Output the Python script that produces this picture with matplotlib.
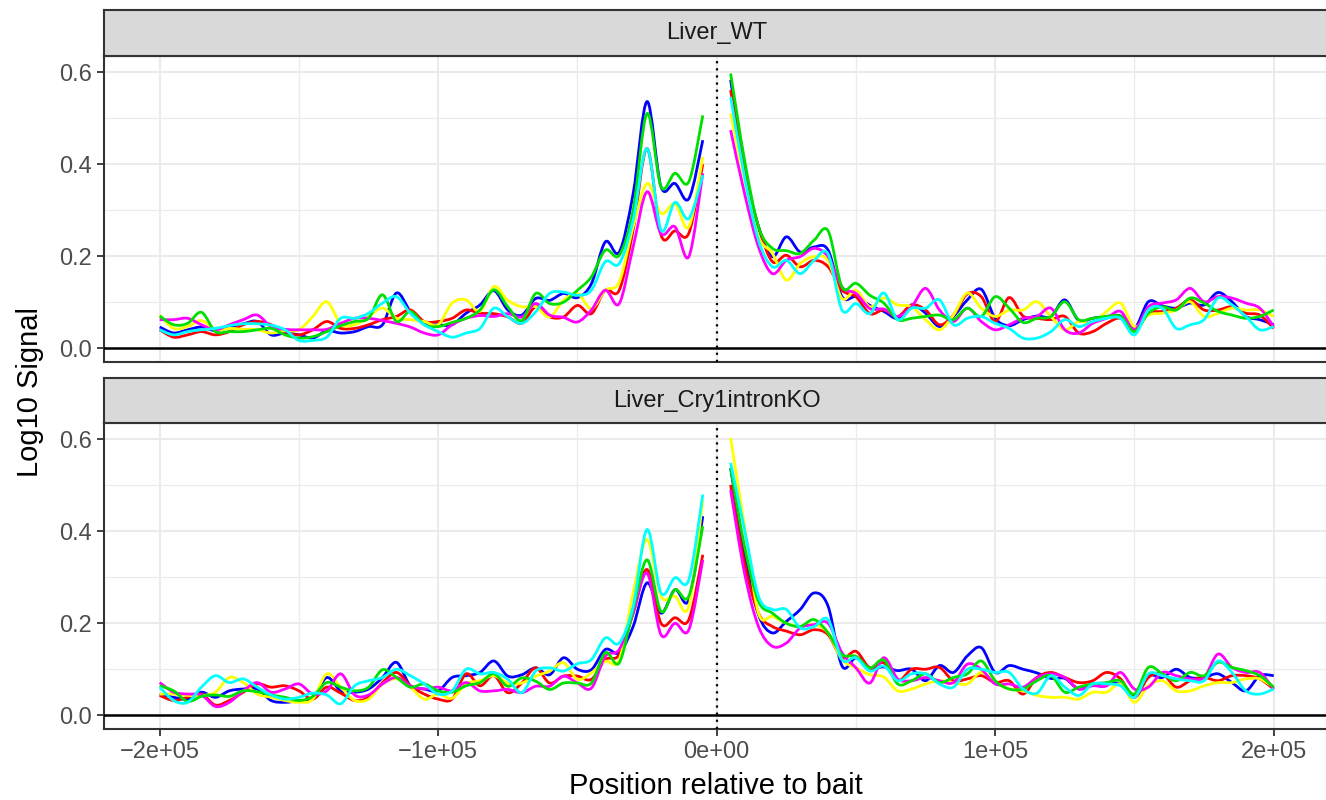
import matplotlib
matplotlib.use("Agg")
import matplotlib.pyplot as plt
from matplotlib.path import Path
from matplotlib.patches import PathPatch
from matplotlib.ticker import FixedLocator, FixedFormatter

plt.rcParams['font.family'] = ['Liberation Sans', 'DejaVu Sans']

# ---------------- data ----------------
panel_titles = ["Liver_WT", "Liver_Cry1intronKO"]
series_colors = ["#0000FF", "#FF0000", "#FFFF00", "#FF00FF", "#00E000", "#00FFFF"]

pos_left = list(range(-200000, 0, 5000))      # -200 kb .. -5 kb
pos_right = list(range(5000, 200001, 5000))   #  5 kb .. 200 kb

x_tick_values = [-200000, -100000, 0, 100000, 200000]
x_tick_labels = ["\u22122e+05", "\u22121e+05", "0e+00", "1e+05", "2e+05"]
y_tick_values = [0.0, 0.2, 0.4, 0.6]
y_tick_labels = ["0.0", "0.2", "0.4", "0.6"]

# Liver_WT
wt_blue = [.046, .033, .040, .046, .038, .046, .053, .058, .029, .033, .029, .022, .038, .033, .036, .047, .051, .120, .080, .053,
           .051, .051, .076, .094, .125, .083, .072, .108, .104, .119, .110, .140, .231, .209, .336, .536, .351, .358, .325, .452,
           .583, .394, .264, .199, .242, .209, .220, .213, .112, .112, .093, .080, .065, .094, .076, .047, .069, .105, .128, .065,
           .049, .062, .070, .069, .105, .060, .065, .069, .070, .043, .101, .092, .087, .098, .094, .121, .101, .069, .062, .051]
wt_red = [.040, .024, .029, .036, .029, .036, .051, .058, .051, .036, .029, .040, .058, .043, .043, .051, .062, .069, .083, .058,
          .058, .065, .083, .076, .075, .068, .054, .090, .068, .068, .093, .075, .126, .126, .257, .434, .246, .255, .250, .400,
          .561, .387, .264, .188, .202, .177, .191, .177, .126, .112, .075, .083, .069, .094, .083, .051, .072, .118, .112, .058,
          .110, .070, .065, .062, .069, .033, .036, .054, .065, .040, .076, .080, .087, .105, .083, .083, .090, .076, .072, .043]
wt_yellow = [.072, .043, .047, .060, .040, .043, .041, .040, .033, .038, .040, .069, .101, .053, .051, .069, .087, .065, .062, .058,
             .051, .098, .105, .080, .134, .104, .090, .090, .068, .104, .119, .086, .126, .144, .264, .358, .293, .314, .264, .416,
             .510, .365, .242, .206, .148, .184, .199, .190, .108, .126, .090, .109, .094, .090, .062, .040, .072, .120, .087, .069,
             .083, .083, .101, .069, .040, .058, .054, .080, .098, .047, .072, .076, .083, .101, .069, .076, .087, .083, .083, .069]
wt_magenta = [.062, .062, .065, .051, .040, .051, .062, .072, .047, .041, .040, .040, .041, .054, .065, .065, .060, .054, .046, .033,
              .029, .051, .065, .071, .069, .075, .068, .097, .072, .067, .057, .083, .126, .097, .220, .340, .249, .264, .199, .380,
              .474, .336, .220, .162, .191, .199, .217, .199, .133, .119, .086, .085, .069, .090, .130, .083, .058, .087, .058, .040,
              .051, .065, .069, .087, .040, .033, .054, .065, .080, .040, .090, .098, .105, .130, .101, .112, .109, .098, .087, .047]
wt_green = [.070, .051, .054, .078, .036, .036, .036, .040, .043, .029, .022, .025, .036, .049, .058, .065, .116, .058, .080, .051,
            .047, .056, .065, .083, .127, .090, .060, .119, .097, .100, .126, .155, .213, .202, .300, .510, .351, .380, .362, .506,
            .597, .409, .264, .217, .212, .206, .235, .255, .133, .141, .115, .098, .062, .065, .069, .072, .062, .087, .069, .112,
            .087, .056, .065, .069, .101, .062, .065, .069, .069, .036, .076, .090, .083, .109, .098, .080, .072, .065, .069, .083]
wt_cyan = [.040, .029, .036, .040, .043, .049, .053, .053, .050, .040, .017, .017, .024, .065, .065, .076, .098, .112, .076, .051,
           .036, .024, .033, .043, .087, .068, .054, .079, .119, .122, .115, .126, .188, .184, .278, .434, .257, .317, .282, .376,
           .546, .372, .235, .177, .191, .162, .191, .205, .083, .097, .075, .120, .062, .087, .087, .105, .051, .065, .069, .054,
           .043, .022, .022, .036, .062, .047, .058, .065, .065, .029, .083, .087, .043, .051, .062, .109, .094, .069, .040, .047]

# Liver_Cry1intronKO
ko_blue = [.046, .039, .035, .050, .039, .053, .057, .057, .032, .028, .032, .037, .082, .053, .050, .057, .082, .115, .064, .057,
           .053, .082, .086, .093, .118, .085, .088, .103, .088, .125, .100, .099, .143, .136, .193, .288, .222, .273, .251, .433,
           .538, .353, .219, .179, .204, .230, .266, .237, .107, .125, .103, .105, .097, .100, .075, .108, .093, .129, .147, .093,
           .108, .100, .092, .080, .080, .057, .068, .068, .068, .043, .086, .082, .100, .082, .082, .090, .071, .053, .086, .086]
ko_red = [.043, .032, .039, .046, .022, .032, .050, .068, .061, .064, .053, .035, .061, .048, .032, .039, .071, .093, .064, .046,
          .035, .035, .090, .064, .086, .049, .070, .103, .070, .085, .085, .078, .121, .132, .222, .317, .200, .212, .208, .349,
          .501, .331, .222, .193, .183, .175, .186, .175, .125, .139, .103, .114, .075, .100, .100, .104, .075, .079, .086, .071,
          .075, .046, .082, .093, .082, .071, .075, .093, .079, .039, .082, .090, .061, .075, .082, .075, .086, .086, .079, .057]
ko_yellow = [.046, .046, .043, .043, .050, .082, .071, .046, .039, .032, .028, .035, .090, .061, .032, .035, .068, .079, .061, .035,
             .046, .037, .068, .075, .086, .070, .070, .085, .096, .114, .078, .092, .117, .121, .266, .382, .259, .259, .237, .469,
             .603, .411, .222, .215, .200, .193, .197, .179, .121, .103, .088, .083, .053, .057, .068, .075, .071, .068, .093, .071,
             .057, .053, .043, .039, .039, .035, .050, .050, .068, .028, .064, .075, .053, .053, .064, .071, .071, .079, .079, .061]
ko_magenta = [.071, .050, .046, .044, .019, .028, .053, .071, .050, .057, .068, .046, .053, .090, .044, .044, .068, .082, .064, .057,
              .061, .053, .071, .053, .053, .056, .049, .063, .063, .085, .070, .059, .128, .143, .222, .309, .175, .200, .186, .338,
              .490, .309, .193, .150, .157, .190, .197, .200, .136, .103, .070, .125, .079, .075, .082, .075, .071, .111, .100, .068,
              .068, .061, .082, .090, .082, .057, .064, .064, .093, .057, .061, .093, .086, .079, .082, .133, .104, .093, .093, .057]
ko_green = [.064, .053, .030, .041, .044, .041, .053, .051, .044, .039, .032, .041, .071, .061, .053, .061, .099, .082, .061, .068,
            .053, .050, .064, .071, .090, .063, .081, .074, .056, .070, .070, .070, .136, .114, .230, .338, .226, .273, .259, .411,
            .538, .367, .248, .222, .200, .193, .208, .179, .132, .128, .103, .120, .068, .075, .090, .071, .082, .090, .118, .075,
            .057, .057, .075, .086, .050, .061, .068, .071, .075, .046, .104, .090, .075, .093, .086, .115, .104, .097, .086, .061]
ko_cyan = [.061, .032, .028, .061, .086, .071, .079, .061, .044, .035, .039, .048, .044, .025, .064, .075, .082, .100, .086, .068,
           .046, .053, .100, .090, .093, .078, .049, .096, .103, .096, .112, .121, .168, .157, .237, .404, .266, .299, .295, .480,
           .549, .404, .259, .230, .230, .190, .193, .208, .121, .125, .096, .107, .075, .090, .090, .068, .061, .100, .100, .093,
           .093, .057, .048, .086, .061, .043, .068, .068, .064, .039, .090, .086, .079, .075, .075, .118, .093, .053, .046, .057]

panel_series = [
    [wt_blue, wt_red, wt_yellow, wt_magenta, wt_green, wt_cyan],
    [ko_blue, ko_red, ko_yellow, ko_magenta, ko_green, ko_cyan],
]


def smooth_path(xs, ys):
    """Cubic Bezier path passing through every (x, y) point (Catmull-Rom tangents)."""
    n = len(xs)
    verts = [(xs[0], ys[0])]
    codes = [Path.MOVETO]
    for k in range(n - 1):
        x0, y0 = xs[max(k - 1, 0)], ys[max(k - 1, 0)]
        x1, y1 = xs[k], ys[k]
        x2, y2 = xs[k + 1], ys[k + 1]
        x3, y3 = xs[min(k + 2, n - 1)], ys[min(k + 2, n - 1)]
        c1 = (x1 + (x2 - x0) / 6.0, y1 + (y2 - y0) / 6.0)
        c2 = (x2 - (x3 - x1) / 6.0, y2 - (y3 - y1) / 6.0)
        verts += [c1, c2, (x2, y2)]
        codes += [Path.CURVE4] * 3
    return Path(verts, codes)


# ---------------- layout ----------------
W, H = 1326, 800
fig = plt.figure(figsize=(W / 100, H / 100), dpi=100)


def frac(x0, y0, x1, y1):
    return [x0 / W, 1 - y1 / H, (x1 - x0) / W, (y1 - y0) / H]


X0, X1 = 104, 1329.4
panel_boxes = [(56, 362), (423.3, 729)]
strip_boxes = [(10, 56), (378.3, 423.3)]

BORDER = "#333333"
GRID = "#EBEBEB"
n_left = len(pos_left)

for i in range(2):
    top, bot = panel_boxes[i]
    ax = fig.add_axes(frac(X0, top, X1, bot))
    ax.set_xlim(-220000, 220000)
    ax.set_ylim(-0.03, 0.635)
    ax.set_axisbelow(True)

    ax.xaxis.set_major_locator(FixedLocator(x_tick_values))
    ax.xaxis.set_minor_locator(FixedLocator([-150000, -50000, 50000, 150000]))
    ax.yaxis.set_major_locator(FixedLocator(y_tick_values))
    ax.yaxis.set_minor_locator(FixedLocator([0.1, 0.3, 0.5]))
    ax.yaxis.set_major_formatter(FixedFormatter(y_tick_labels))
    ax.xaxis.set_major_formatter(FixedFormatter(x_tick_labels))

    ax.grid(True, which="major", color=GRID, lw=1.5)
    ax.grid(True, which="minor", color=GRID, lw=0.9)
    ax.tick_params(which="minor", length=0)
    ax.tick_params(which="major", color=BORDER, width=1.3, length=5,
                   labelsize=17, labelcolor="#4D4D4D", pad=4)
    if i == 0:
        ax.tick_params(axis="x", which="major", labelbottom=False, length=0)
    for s in ax.spines.values():
        s.set_color(BORDER)
        s.set_linewidth(1.5)

    for vals, col in zip(panel_series[i], series_colors):
        for xs, ys in ((pos_left, vals[:n_left]), (pos_right, vals[n_left:])):
            patch = PathPatch(smooth_path(xs, ys), facecolor="none",
                              edgecolor=col, lw=2.0, joinstyle="round",
                              capstyle="butt", transform=ax.transData,
                              zorder=2)
            ax.add_patch(patch)

    ax.axhline(0, color="black", lw=1.8, zorder=3)
    ax.axvline(0, color="black", lw=1.6, ls=(0, (1, 2.2)), zorder=3)

    stop, sbot = strip_boxes[i]
    sx = fig.add_axes(frac(X0, stop, X1, sbot))
    sx.set_facecolor("#D9D9D9")
    sx.set_xticks([])
    sx.set_yticks([])
    for s in sx.spines.values():
        s.set_color(BORDER)
        s.set_linewidth(1.5)
    sx.text(0.5, 0.5, panel_titles[i], transform=sx.transAxes, ha="center",
            va="center", fontsize=17, color="#1A1A1A")

fig.text(30 / W, 1 - 392 / H, "Log10 Signal", rotation=90, ha="center",
         va="center", fontsize=21, color="black")
fig.text(716 / W, 1 - 794 / H, "Position relative to bait", ha="center",
         va="baseline", fontsize=21, color="black")

fig.savefig("out.png", dpi=100)
